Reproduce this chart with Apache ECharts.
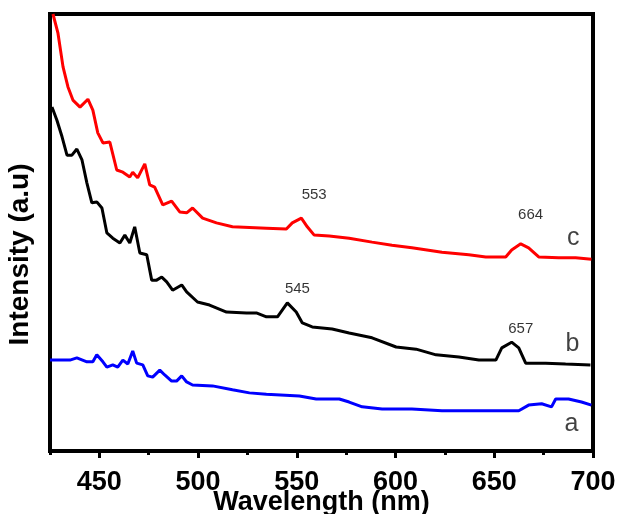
<!DOCTYPE html>
<html><head><meta charset="utf-8">
<script src="https://cdn.jsdelivr.net/npm/echarts@6/dist/echarts.min.js"></script>
<style>html,body{margin:0;padding:0;background:#fff}#c{width:622px;height:514px}</style>
</head><body><div id="c"></div>
<script>
const xTickLabels = [450, 500, 550, 600, 650, 700];
const xMinorTicks = [425, 475, 525, 575, 625, 675];

// curve c (red)
const curveC = [
  [426.5,100],[429.0,95.7],[431.6,87.9],[434.1,83.3],[436.6,80.3],[440.2,78.7],[444.2,80.5],
  [446.7,78.0],[449.2,72.8],[451.8,70.5],[455.3,70.7],[458.8,64.3],[461.9,63.8],[465.4,62.7],
  [466.9,63.8],[469.4,62.5],[473.0,65.7],[475.5,60.9],[478.0,60.4],[482.1,56.3],[486.6,57.2],
  [490.7,54.7],[494.2,54.5],[497.2,55.6],[502.3,53.3],[509.3,52.2],[517.4,51.3],[534.6,51.0],
  [544.7,50.8],[547.7,52.2],[552.3,53.3],[555.3,51.3],[558.8,49.4],[566.4,49.2],[576.5,48.7],
  [588.1,47.8],[598.2,47.1],[608.3,46.5],[623.5,45.5],[637.1,44.9],[645.7,44.4],[655.8,44.4],
  [658.8,46.0],[663.4,47.4],[667.4,46.5],[672.5,44.4],[682.6,44.2],[691.2,44.2],[699.2,43.9]
];
// curve b (black)
const curveB = [
  [426.0,78.7],[428.5,75.7],[431.1,71.9],[433.6,67.7],[436.1,67.7],[438.6,69.1],[441.2,66.6],
  [443.7,61.3],[446.2,56.8],[448.7,57.0],[451.3,55.6],[453.8,49.9],[456.8,48.7],[460.4,47.6],
  [462.9,49.4],[465.4,47.6],[467.9,51.3],[470.5,45.3],[474.0,44.9],[476.5,39.1],[479.0,39.1],
  [481.6,39.8],[484.1,38.7],[487.1,36.8],[491.7,38.0],[494.2,36.4],[499.7,34.1],[505.8,33.4],
  [514.4,31.8],[524.5,31.6],[529.5,31.6],[534.6,30.7],[540.2,30.7],[545.2,33.9],[549.7,31.8],
  [552.8,29.3],[557.8,28.4],[567.9,27.9],[576.5,27.0],[588.1,25.9],[600.3,23.8],[610.4,23.3],
  [620.5,22.0],[632.1,21.5],[642.2,20.8],[650.8,20.8],[653.8,23.6],[658.8,24.9],[662.4,23.6],
  [665.9,20.1],[676.0,20.1],[686.1,19.9],[698.7,19.7]
];
// curve a (blue)
const curveA = [
  [425.0,20.8],[435.1,20.8],[438.6,21.3],[443.7,20.4],[446.7,20.4],[448.7,22.0],[451.8,20.4],
  [453.8,19.2],[456.8,19.7],[459.3,19.2],[461.9,20.8],[464.4,19.9],[466.9,22.9],[468.9,20.1],
  [472.0,19.7],[474.5,17.2],[477.0,16.9],[480.6,18.5],[483.1,17.4],[486.6,16.0],[489.1,16.0],
  [491.7,17.2],[494.2,15.8],[497.2,15.1],[507.3,14.9],[517.4,14.0],[526.0,13.3],[534.6,13.0],
  [551.3,12.6],[559.8,11.9],[571.5,11.9],[576.5,11.2],[583.1,10.1],[593.2,9.6],[608.3,9.6],
  [623.5,9.2],[638.6,9.2],[662.4,9.2],[667.4,10.5],[674.0,10.8],[679.0,10.1],[681.1,11.9],
  [687.6,11.9],[694.2,11.2],[699.2,10.5]
];

const peakLabels = [[558.8,58.6,'553'],[668.4,54.0,'664'],[550.3,37.1,'545'],[663.4,27.9,'657']];
const curveLetters = [[690.0,48.7,'c'],[689.6,24.5,'b'],[689.1,6.2,'a']];

const chart = echarts.init(document.getElementById('c'), null, {renderer:'canvas'});
const FONT = 'Liberation Sans, Arial, sans-serif';
function lineSeries(data, color){
  return {type:'line', data:data, showSymbol:false, symbol:'none', lineStyle:{color:color, width:3},
    itemStyle:{color:color}, animation:false, z:3};
}
chart.setOption({
  backgroundColor:'#fff',
  animation:false,
  grid:{left:50, right:29, top:14, bottom:63, show:true, borderColor:'#000', borderWidth:4, backgroundColor:'transparent', containLabel:false, outerBoundsMode:'none'},
  xAxis:[{
    type:'value', min:425, max:700,
    name:'Wavelength (nm)', nameLocation:'middle', nameGap:38, nameMoveOverlap:false,
    nameTextStyle:{fontFamily:FONT, fontWeight:'bold', fontSize:27, color:'#000'},
    axisLine:{show:true, lineStyle:{color:'#000', width:4}},
    axisTick:{show:true, inside:false, length:7, lineStyle:{color:'#000', width:3}, customValues:xTickLabels},
    axisLabel:{show:true, margin:18, fontFamily:FONT, fontWeight:'bold', fontSize:27, color:'#000', customValues:xTickLabels},
    splitLine:{show:false}
  },{
    type:'value', min:425, max:700, position:'bottom', gridIndex:0,
    axisLine:{show:false},
    axisTick:{show:true, inside:false, length:4, lineStyle:{color:'#000', width:3}, customValues:xMinorTicks},
    axisLabel:{show:false},
    splitLine:{show:false}
  }],
  yAxis:{
    type:'value', min:0, max:100,
    name:'Intensity (a.u)', nameLocation:'middle', nameGap:16, nameRotate:90, nameMoveOverlap:false,
    nameTextStyle:{fontFamily:FONT, fontWeight:'bold', fontSize:28, color:'#000', padding:[0,44,0,0]},
    axisLine:{show:true, lineStyle:{color:'#000', width:4}},
    axisTick:{show:false}, axisLabel:{show:false}, splitLine:{show:false}
  },
  series:[
    lineSeries(curveC, '#ff0000'),
    lineSeries(curveB, '#000000'),
    lineSeries(curveA, '#0000ff'),
    {type:'scatter', data:peakLabels, symbolSize:0, silent:true, z:5,
      label:{show:true, position:'inside', formatter:p=>p.data[2], fontFamily:FONT, fontSize:15, color:'#000'}},
    {type:'scatter', data:curveLetters, symbolSize:0, silent:true, z:5,
      label:{show:true, position:'inside', formatter:p=>p.data[2], fontFamily:FONT, fontSize:25, color:'#111'}}
  ]
});
</script></body></html>
